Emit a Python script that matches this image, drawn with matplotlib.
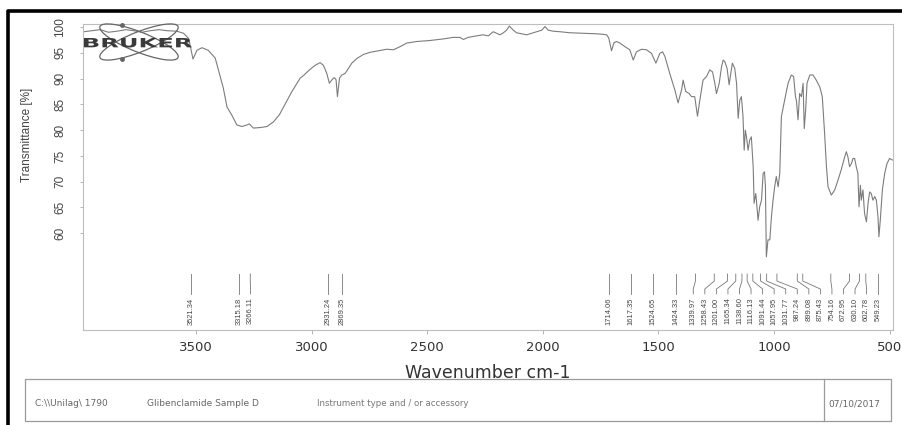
# -*- coding: utf-8 -*-
# IR spectrum (Bruker style printout) - Glibenclamide Sample D
import numpy as np
import matplotlib.pyplot as plt
from matplotlib.patches import Ellipse, Rectangle, PathPatch
from matplotlib.lines import Line2D
from matplotlib.textpath import TextPath
from matplotlib.font_manager import FontProperties
import matplotlib.transforms as mtransforms

# %%
# spectrum (wavenumber cm-1, transmittance %)
wavenumber = [3987, 3950, 3915, 3880, 3843, 3805, 3771, 3735, 3699, 3660, 3627, 3584, 3555, 3533,
              3514, 3497, 3475, 3448, 3418, 3396, 3383, 3367, 3346, 3324, 3302, 3281, 3270, 3253,
              3223, 3194, 3166, 3140, 3122, 3086, 3050, 3036, 3010, 2985, 2964, 2950, 2935, 2924,
              2914, 2903, 2895, 2889, 2880, 2870, 2856, 2841, 2827, 2805, 2776, 2748, 2712, 2676,
              2647, 2618, 2589, 2546, 2488, 2431, 2388, 2359, 2344, 2323, 2287, 2258, 2236, 2215,
              2200, 2186, 2171, 2157, 2145, 2128, 2114, 2092, 2070, 2049, 2027, 2005, 1991, 1977,
              1955, 1926, 1883, 1825, 1768, 1740, 1724, 1715, 1703, 1692, 1681, 1667, 1645, 1624,
              1609, 1595, 1573, 1552, 1530, 1511, 1494, 1482, 1472, 1451, 1429, 1415, 1400, 1393,
              1382, 1367, 1357, 1343, 1331, 1321, 1307, 1292, 1278, 1266, 1256, 1249, 1237, 1227,
              1220, 1213, 1203, 1194, 1187, 1180, 1170, 1162, 1155, 1148, 1141, 1134, 1129, 1124,
              1119, 1112, 1105, 1098, 1090, 1086, 1079, 1076, 1069, 1062, 1054, 1047, 1041, 1037,
              1033, 1026, 1018, 1011, 1004, 997, 990, 982, 975, 968, 954, 939, 925, 915,
              907, 903, 896, 889, 881, 874, 869, 863, 857, 845, 831, 817, 802, 791,
              781, 773, 766, 752, 737, 723, 709, 694, 687, 680, 673, 665, 658, 651,
              644, 637, 632, 626, 622, 615, 608, 600, 593, 586, 579, 572, 564, 557,
              550, 546, 540, 531, 521, 511, 500, 488]
transmittance = [99.1, 99.3, 99.5, 99.0, 99.2, 99.5, 99.3, 99.0, 99.3, 99.5, 99.3, 99.2, 98.8, 97.8,
                 93.8, 95.5, 96.0, 95.5, 94.0, 90.4, 88.2, 84.5, 82.9, 81.0, 80.7, 81.0, 81.2, 80.4,
                 80.5, 80.7, 81.6, 83.0, 84.5, 87.5, 90.1, 90.6, 91.7, 92.6, 93.1, 92.6, 91.0, 89.1,
                 89.7, 90.2, 89.8, 86.5, 90.1, 90.7, 91.0, 92.0, 93.0, 93.9, 94.7, 95.1, 95.4, 95.7,
                 95.6, 96.2, 96.9, 97.2, 97.4, 97.7, 98.0, 98.0, 97.6, 98.0, 98.3, 98.5, 98.3, 99.1,
                 98.8, 98.5, 98.9, 99.4, 100.2, 99.4, 98.9, 98.7, 98.5, 98.8, 99.1, 99.4, 100.1, 99.4,
                 99.2, 99.1, 98.9, 98.8, 98.7, 98.6, 98.5, 97.9, 95.4, 97.0, 97.2, 96.9, 96.2, 95.6,
                 93.6, 95.2, 95.7, 95.6, 94.9, 93.0, 94.9, 95.2, 94.3, 91.0, 87.8, 85.3, 87.8, 89.7,
                 87.5, 87.1, 86.5, 86.5, 82.7, 85.8, 89.7, 90.4, 91.7, 91.3, 89.1, 87.1, 89.1, 92.3,
                 93.6, 93.3, 92.0, 88.8, 91.0, 93.0, 92.0, 89.1, 82.3, 85.8, 86.5, 82.6, 76.1, 80.0,
                 78.7, 76.1, 78.1, 78.7, 72.9, 65.8, 67.7, 66.4, 62.5, 65.1, 66.4, 71.6, 71.9, 69.0,
                 55.4, 58.7, 58.7, 63.2, 66.4, 69.0, 71.0, 69.0, 71.6, 82.6, 85.8, 89.1, 90.7, 90.4,
                 86.5, 85.8, 82.0, 87.1, 86.5, 89.1, 80.3, 83.9, 89.1, 90.7, 90.7, 89.7, 88.4, 86.5,
                 79.4, 72.9, 69.0, 67.4, 68.4, 70.3, 72.3, 74.8, 75.8, 74.8, 72.9, 73.5, 74.5, 74.5,
                 72.9, 71.6, 65.1, 69.3, 66.4, 68.4, 63.8, 62.2, 65.8, 68.0, 67.7, 66.4, 67.1, 66.4,
                 63.2, 59.3, 62.5, 68.4, 71.6, 73.5, 74.5, 74.2]

# picked peaks (printed under the spectrum)
peak_labels = ['3521.34', '3315.18', '3266.11', '2931.24', '2869.35', '1714.06', '1617.35',
               '1524.65', '1424.33', '1339.97', '1258.43', '1201.00', '1165.34', '1138.60',
               '1116.13', '1091.44', '1057.95', '1031.77', '987.24', '899.08', '875.43',
               '754.16', '672.95', '630.10', '602.78', '549.23']

x_ticks = [3500, 3000, 2500, 2000, 1500, 1000, 500]
y_ticks = [60, 65, 70, 75, 80, 85, 90, 95, 100]

footer_path = 'C:\\\\Unilag\\ 1790'
footer_sample = 'Glibenclamide Sample D'
footer_instrument = 'Instrument type and / or accessory'
footer_date = '07/10/2017'

# %%
W, H = 903, 425
fig = plt.figure(figsize=(W / 100, H / 100), dpi=100)
fig.patch.set_facecolor('white')


def fx(px):
    return px / W


def fy(py):
    return 1 - py / H


ax = fig.add_axes([fx(83), fy(330), fx(893) - fx(83), fy(24) - fy(330)])
ax.plot(wavenumber, transmittance, color='#7c7c7c', lw=0.8, zorder=2)
ax.set_xlim(3990, 485)
ax.set_ylim(41.2, 100.6)

ax.set_xticks(x_ticks)
ax.set_yticks(y_ticks)
for s in ax.spines.values():
    s.set_color('#bdbdbd')
    s.set_linewidth(0.8)
ax.tick_params(axis='x', length=3, width=0.6, color='#aaaaaa', pad=5, labelsize=9.5, labelcolor='#333333')
ax.tick_params(axis='y', length=2, width=0.6, color='#aaaaaa', pad=10, labelsize=8.5, labelcolor='#444444',
               labelrotation=90)
for lbl in ax.get_yticklabels():
    lbl.set_va('center')
    lbl.set_family(['Liberation Sans Narrow', 'Liberation Sans'])

ax.set_xlabel('Wavenumber cm-1', fontsize=12.5, color='#333333', labelpad=7)
ax.set_ylabel('Transmittance [%]', fontsize=8.5, color='#444444', family='Liberation Sans')
ax.yaxis.set_label_coords(-0.062, 0.637)

# %%
# peak labels with leader lines; spread labels so they do not overlap
peak_pos = np.array([float(v) for v in peak_labels])
gap = 50.0
lab = peak_pos.copy()
for i in range(1, len(lab)):
    lab[i] = min(peak_pos[i], lab[i - 1] - gap)
lab[-1] = peak_pos[-1]
for i in range(len(lab) - 2, -1, -1):
    lab[i] = max(lab[i], lab[i + 1] + gap)

trans = mtransforms.blended_transform_factory(ax.transData, ax.transAxes)
for p, q, txt in zip(peak_pos, lab, peak_labels):
    ax.plot([p, p, q, q], [0.183, 0.160, 0.134, 0.118], transform=trans, color='#777777', lw=0.6)
    ax.text(q, 0.106, txt, transform=trans, rotation=90, ha='center', va='top', fontsize=5.4,
            color='#444444', family='Liberation Sans')

# %%
# BRUKER logo in the upper left corner
for ang in (-21.7, 21.7):
    fig.add_artist(Ellipse((1.39, (H - 42) / 100), 0.84, 0.2, angle=ang, transform=fig.dpi_scale_trans,
                           fill=False, edgecolor='#666666', lw=0.9, zorder=5))
fig.add_artist(Line2D([1.217, 1.217], [(H - 25) / 100, (H - 59) / 100], transform=fig.dpi_scale_trans,
                      ls='none', marker='o', ms=2.5, color='#666666', zorder=5))
# wide bold lettering: text path stretched horizontally (units: pixels -> inches)
logo = TextPath((0, 0), 'BRUKER', size=12.5, prop=FontProperties(family='DejaVu Sans', weight='bold'))
bb = logo.get_extents()
sx = 108 / bb.width
logo_tr = (mtransforms.Affine2D().translate(-bb.x0, -bb.y0).scale(sx, 9.5 / bb.height)
           .translate(84, H - 47.5).scale(1 / 100) + fig.dpi_scale_trans)
fig.add_artist(PathPatch(logo, transform=logo_tr, facecolor='#3a3a3a', edgecolor='none', zorder=6))

# %%
# footer box
fig.add_artist(Rectangle((fx(25), fy(421)), fx(891) - fx(25), fy(379) - fy(421), transform=fig.transFigure,
                         fill=False, edgecolor='#9a9a9a', lw=0.9))
fig.add_artist(Line2D([fx(824), fx(824)], [fy(379), fy(421)], transform=fig.transFigure, color='#9a9a9a', lw=0.9))
fig.text(fx(35), fy(403), footer_path, fontsize=6.5, color='#666666', va='center')
fig.text(fx(147), fy(403), footer_sample, fontsize=6.5, color='#666666', va='center')
fig.text(fx(317), fy(403), footer_instrument, fontsize=6.2, color='#777777', va='center')
fig.text(fx(828), fy(404), footer_date, fontsize=6.5, color='#666666', va='center')

# thick outer frame (top and left)
fig.add_artist(Line2D([fx(8), fx(8), 1], [0, fy(11), fy(11)], transform=fig.transFigure, color='black', lw=2.6))

plt.savefig('out.png', dpi=100)
